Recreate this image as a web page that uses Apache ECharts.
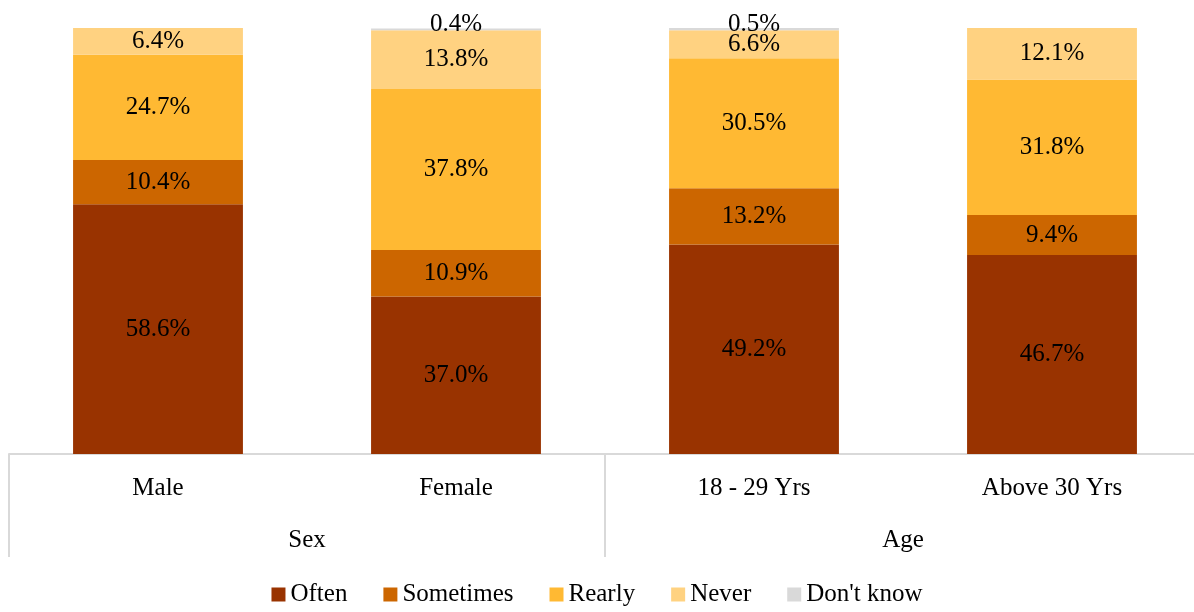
<!DOCTYPE html>
<html><head><meta charset="utf-8">
<script src="https://cdn.jsdelivr.net/npm/echarts@6/dist/echarts.min.js"></script>
<style>html,body{margin:0;padding:0;background:#fff}#c{width:1194px;height:612px}</style>
</head><body><div id="c"></div>
<script>
const categories = ['Male', 'Female', '18 - 29 Yrs', 'Above 30 Yrs'];
const groups = ['Sex', 'Age'];
const often = [58.6, 37.0, 49.2, 46.7];
const sometimes = [10.4, 10.9, 13.2, 9.4];
const rearly = [24.7, 37.8, 30.5, 31.8];
const never = [6.4, 13.8, 6.6, 12.1];
const dontKnow = [null, 0.4, 0.5, null];
const seriesNames = ['Often', 'Sometimes', 'Rearly', 'Never', "Don't know"];
const colors = ['#993300', '#CC6600', '#FFB933', '#FFD281', '#D9D9D9'];

const FONT = 'Liberation Serif';
const FS = 25;
const txt = { fontFamily: FONT, fontSize: FS, color: '#000' };
const fmt = p => p.value == null ? '' : p.value.toFixed(1) + '%';
const data = [often, sometimes, rearly, never, dontKnow];

const chart = echarts.init(document.getElementById('c'));
chart.setOption({
  animation: false,
  textStyle: { fontFamily: FONT },
  grid: { left: 9, top: 28, width: 1192, bottom: 158, outerBoundsMode: 'none', containLabel: false },
  legend: {
    bottom: 0, left: 'center', itemWidth: 14, itemHeight: 14, itemGap: 36,
    icon: 'rect',
    textStyle: Object.assign({}, txt),
    data: seriesNames
  },
  xAxis: [
    {
      type: 'category', data: categories, position: 'bottom',
      axisLine: { show: true, lineStyle: { color: '#D9D9D9', width: 2 } },
      axisTick: { show: false },
      axisLabel: Object.assign({ margin: 22 }, txt)
    },
    {
      type: 'category', data: groups, position: 'bottom',
      axisLine: { show: false },
      axisTick: { show: true, length: 103, lineStyle: { color: '#D9D9D9', width: 2 } },
      axisLabel: Object.assign({ margin: 74 }, txt)
    }
  ],
  yAxis: { type: 'value', min: 0, max: 100, show: false },
  series: seriesNames.map((name, i) => ({
    name, type: 'bar', stack: 'total', xAxisIndex: 0,
    barWidth: '57%',
    data: data[i],
    itemStyle: { color: colors[i] },
    label: Object.assign({
      show: true,
      position: i === 4 ? 'top' : 'inside',
      distance: i === 4 ? -9 : 5,
      formatter: fmt
    }, txt)
  }))
});
</script></body></html>
